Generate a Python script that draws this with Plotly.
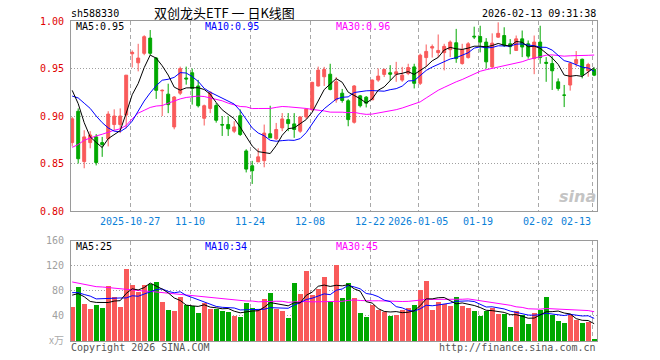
import plotly.graph_objects as go
import pandas as pd

# ---------------- data ----------------
opens = [0.872, 0.905, 0.852, 0.872, 0.878, 0.872, 0.876, 0.891, 0.891, 0.901,
         0.9655, 0.956, 0.966, 0.982, 0.961, 0.9265, 0.923, 0.8885, 0.924, 0.940,
         0.9455, 0.9316, 0.8976, 0.908, 0.911, 0.891, 0.891, 0.884, 0.9003, 0.8632,
         0.8476, 0.8517, 0.853, 0.8813, 0.876, 0.8875, 0.8962, 0.8917, 0.884, 0.899,
         0.9066, 0.9316, 0.9413, 0.944, 0.917, 0.924, 0.916, 0.8934, 0.9212, 0.9198,
         0.917, 0.9378, 0.9438, 0.9455, 0.944, 0.9378, 0.9448, 0.9517, 0.9344, 0.9615,
         0.9715, 0.9667, 0.9667, 0.9698, 0.9771, 0.9552, 0.9615, 0.984, 0.9837, 0.9778,
         0.9517, 0.983, 0.9847, 0.976, 0.969, 0.9812, 0.976, 0.9604, 0.9778, 0.9565,
         0.9552, 0.936, 0.922, 0.9326, 0.9552, 0.9597, 0.9476, 0.949]
highs = [0.899, 0.908, 0.885, 0.884, 0.881, 0.878, 0.905, 0.907, 0.908, 0.943,
         0.969, 0.976, 0.985, 0.9905, 0.962, 0.928, 0.934, 0.921, 0.952, 0.952,
         0.950, 0.938, 0.912, 0.926, 0.9135, 0.900, 0.8997, 0.8945, 0.907, 0.865,
         0.8528, 0.866, 0.891, 0.9108, 0.8927, 0.9031, 0.9031, 0.903, 0.8997, 0.908,
         0.936, 0.952, 0.9517, 0.955, 0.941, 0.9285, 0.9177, 0.9326, 0.9222, 0.921,
         0.9385, 0.950, 0.950, 0.9535, 0.957, 0.9517, 0.955, 0.955, 0.9656, 0.9753,
         0.9753, 0.9858, 0.976, 0.9795, 0.9917, 0.976, 0.9778, 0.994, 0.995, 0.982,
         0.987, 0.9986, 0.9934, 0.981, 0.9847, 0.990, 0.9795, 0.9847, 0.995, 0.962,
         0.963, 0.9396, 0.9327, 0.957, 0.9684, 0.9604, 0.956, 0.951]
lows = [0.868, 0.850, 0.845, 0.866, 0.848, 0.857, 0.868, 0.885, 0.882, 0.887,
        0.951, 0.947, 0.964, 0.964, 0.918, 0.900, 0.903, 0.886, 0.922, 0.933,
        0.912, 0.909, 0.890, 0.903, 0.893, 0.879, 0.879, 0.882, 0.879, 0.8406,
        0.8285, 0.8517, 0.846, 0.877, 0.8747, 0.884, 0.884, 0.877, 0.8823, 0.8969,
        0.905, 0.931, 0.9316, 0.927, 0.914, 0.914, 0.8892, 0.892, 0.909, 0.909,
        0.917, 0.936, 0.941, 0.937, 0.936, 0.936, 0.943, 0.929, 0.9326, 0.9517,
        0.9615, 0.9615, 0.948, 0.962, 0.956, 0.954, 0.9604, 0.981, 0.967, 0.950,
        0.950, 0.9823, 0.9726, 0.965, 0.969, 0.962, 0.9604, 0.944, 0.955, 0.936,
        0.9274, 0.9267, 0.9094, 0.9267, 0.9517, 0.9396, 0.9413, 0.942]
closes = [0.897, 0.855, 0.878, 0.880, 0.851, 0.870, 0.902, 0.900, 0.900, 0.943,
          0.967, 0.961, 0.9835, 0.966, 0.927, 0.927, 0.912, 0.920, 0.950, 0.939,
          0.929, 0.9108, 0.9108, 0.925, 0.8955, 0.8905, 0.8865, 0.8885, 0.8805, 0.8441,
          0.8424, 0.857, 0.882, 0.877, 0.8858, 0.8969, 0.892, 0.8858, 0.899, 0.9073,
          0.9354, 0.9483, 0.949, 0.928, 0.936, 0.9163, 0.8962, 0.9316, 0.9108, 0.9135,
          0.9378, 0.942, 0.949, 0.944, 0.9465, 0.943, 0.951, 0.9344, 0.964, 0.968,
          0.973, 0.969, 0.9733, 0.9778, 0.9604, 0.9698, 0.976, 0.9833, 0.9778, 0.957,
          0.9767, 0.987, 0.9743, 0.973, 0.9812, 0.9726, 0.963, 0.9778, 0.9615, 0.9555,
          0.9476, 0.929, 0.9219, 0.9552, 0.9594, 0.943, 0.9542, 0.943]
volumes = [54.4, 86.4, 58.7, 50.7, 57, 52.3, 87.5, 70.4, 53.9, 114.7,
           89, 78.4, 89, 90, 93.9, 61.9, 49, 48, 69.9, 57,
           56, 44.3, 61.3, 51.2, 51.7, 48, 46.4, 40, 38.4, 61.3,
           52.3, 49, 67.2, 76.3, 51.7, 48, 36.8, 92.3, 74.7, 112,
           73.6, 83.2, 101.9, 63.5, 121.6, 68.8, 92.8, 68.8, 44.3, 38.4,
           57.6, 49, 45.9, 40, 41.6, 49, 52.8, 57, 81.1, 95.5,
           49, 61.9, 58.7, 56, 70.4, 56, 52.8, 47.5, 40, 48.5,
           52.8, 43.2, 43.2, 22.4, 47.5, 41, 27.2, 44.3, 49.6, 70.4,
           42.1, 32, 28.8, 42.1, 33, 28.8, 30.4, 3.2]

# moving-average values at the start of the window (history before the chart)
ma5_head = [0.927, 0.913, 0.893, 0.878]
ma10_head = [0.921, 0.919, 0.9135, 0.908, 0.900, 0.893, 0.8875, 0.884, 0.8835]
ma30_head = [0.867, 0.870, 0.8745, 0.877, 0.879, 0.8808, 0.883, 0.885, 0.8865, 0.890,
             0.897, 0.903, 0.906, 0.909, 0.9105, 0.911, 0.9135, 0.916, 0.918, 0.9195,
             0.920, 0.921, 0.9205, 0.919, 0.918, 0.916, 0.9135, 0.9115, 0.910]
vma5_head = [73, 75.5, 70.5, 63]
vma10_head = [77, 77, 74, 71.5, 67, 67.5, 68.5, 68, 68.5]
vma30_head = [94, 92, 90, 88, 86.5, 86, 85, 84, 83, 81.5,
              80.5, 80, 79.5, 79, 78, 77, 76.5, 75.5, 74.5, 73.5,
              72.5, 71.5, 71, 70, 69, 68, 67, 66, 64]

tick_index = [10, 20, 30, 40, 50, 58, 68, 78, 87]
tick_labels = ["2025-10-27", "11-10", "11-24", "12-08", "12-22",
               "2026-01-05", "01-19", "02-02", "02-13"]

title_text = "双创龙头ETF 一 日K线图"
code_text = "sh588330"
time_text = "2026-02-13 09:31:38"
price_ma_labels = ["MA5:0.95", "MA10:0.95", "MA30:0.96"]
vol_ma_labels = ["MA5:25", "MA10:34", "MA30:45"]
price_ticks = [0.80, 0.85, 0.90, 0.95, 1.00]
vol_ticks = [40, 80, 120, 160]

# ---------------- derived ----------------
n = len(closes)
idx = list(range(n))


def moving(series, w, head):
    s = pd.Series(series).rolling(w).mean().tolist()
    for k, v in enumerate(head):
        s[k] = v
    return s


ma5 = moving(closes, 5, ma5_head)
ma10 = moving(closes, 10, ma10_head)
ma30 = moving(closes, 30, ma30_head)
vma5 = moving(volumes, 5, vma5_head)
vma10 = moving(volumes, 10, vma10_head)
vma30 = moving(volumes, 30, vma30_head)

RED = "#f95a5a"
GREEN = "#00a800"
MONO = "DejaVu Sans Mono"

W, H = 660, 360
L, T = 71, 21
R = W - 597
B = H - 341
PW, PH = W - L - R, H - T - B


def fx(x):  # page pixel -> paper x
    return (x - L) / PW


def fy(y):  # page pixel -> paper y
    return (H - B - y) / PH


fig = go.Figure()
fig.add_trace(go.Candlestick(
    x=idx, open=opens, high=highs, low=lows, close=closes,
    xaxis="x", yaxis="y",
    increasing=dict(line=dict(color=RED, width=1), fillcolor=RED),
    decreasing=dict(line=dict(color=GREEN, width=1), fillcolor=GREEN),
    whiskerwidth=0, showlegend=False, hoverinfo="skip"))
for vals, col in [(ma30, "#ff00ff"), (ma10, "#0000ff"), (ma5, "#000000")]:
    fig.add_trace(go.Scatter(x=idx, y=vals, mode="lines", xaxis="x", yaxis="y",
                             line=dict(color=col, width=1), showlegend=False,
                             hoverinfo="skip"))

vcolors = [RED if c >= o else GREEN for o, c in zip(opens, closes)]
fig.add_trace(go.Bar(x=idx, y=volumes, marker=dict(color=vcolors, line=dict(width=0)),
                     width=0.82, xaxis="x2", yaxis="y2", showlegend=False,
                     hoverinfo="skip"))
for vals, col in [(vma30, "#ff00ff"), (vma10, "#0000ff"), (vma5, "#000000")]:
    fig.add_trace(go.Scatter(x=idx, y=vals, mode="lines", xaxis="x2", yaxis="y2",
                             line=dict(color=col, width=1), showlegend=False,
                             hoverinfo="skip"))

grid_x = [i - 0.3 for i in tick_index]
xrange = [-0.2, 87.47]
common_x = dict(range=xrange, tickvals=grid_x, showticklabels=False, ticks="",
                showgrid=True, gridcolor="#a8a8a8", gridwidth=1, griddash="4px,3px",
                showline=True, mirror=True, linecolor="#9a9a9a", linewidth=1,
                zeroline=False, fixedrange=True, automargin=False)


def note(xp, yp, text, color, anchor="left", family=MONO, size=10):
    return dict(x=fx(xp), y=fy(yp), xref="paper", yref="paper", text=text,
                showarrow=False, xanchor=anchor, yanchor="middle", borderpad=0,
                font=dict(family=family, size=size, color=color))


annotations = []
for i, lab in zip(tick_index, tick_labels):
    last = (i == tick_index[-1])
    annotations.append(dict(x=(i - 0.25) if last else (i - 0.3), xref="x",
                            y=fy(221), yref="paper", text=lab, showarrow=False,
                            xanchor="right" if last else "center", yanchor="middle",
                            font=dict(family=MONO, size=10, color="#0a80d8")))

annotations += [
    note(224, 12.5, title_text, "#000", "center", "Noto Sans CJK SC", 13),
    note(70, 13, code_text, "#000"),
    note(597, 13, time_text, "#000", "right"),
    note(75, 26.5, price_ma_labels[0], "#000"),
    note(204, 26.5, price_ma_labels[1], "#0000ff"),
    note(335, 26.5, price_ma_labels[2], "#ff00ff"),
    note(75, 246.5, vol_ma_labels[0], "#000"),
    note(204, 246.5, vol_ma_labels[1], "#0000ff"),
    note(335, 246.5, vol_ma_labels[2], "#ff00ff"),
    note(65, 339, "x万", "#aaaaaa", "right", "Noto Sans CJK SC", 10),
    note(70, 347.5, "Copyright 2026 SINA.COM", "#555"),
    note(597, 347.5, "http://finance.sina.com.cn", "#555", "right"),
    note(597, 196, "<b><i>sina</i></b>", "#c4c4c4", "right", "DejaVu Sans", 16),
]

fig.update_layout(
    width=W, height=H, autosize=False,
    margin=dict(l=L, r=R, t=T, b=B, pad=0),
    paper_bgcolor="#ffffff", plot_bgcolor="#ffffff",
    showlegend=False, bargap=0,
    xaxis=dict(domain=[0, 1], anchor="y", rangeslider=dict(visible=False), **common_x),
    yaxis=dict(domain=[fy(211), 1], anchor="x", range=[0.80, 1.00],
               tickvals=price_ticks, ticktext=[f"{v:.2f}" for v in price_ticks],
               tickfont=dict(family=MONO, size=10, color="#e00000"),
               ticks="", ticklabelstandoff=4, automargin=False,
               showgrid=True, gridcolor="#a0a0a0", gridwidth=1, griddash="1px,2px",
               showline=True, mirror=True, linecolor="#9a9a9a", linewidth=1,
               zeroline=False, fixedrange=True),
    xaxis2=dict(domain=[0, 1], anchor="y2", **common_x),
    yaxis2=dict(domain=[0, fy(240.5)], anchor="x2", range=[0, 160],
                tickvals=vol_ticks, ticktext=[str(v) for v in vol_ticks],
                tickfont=dict(family=MONO, size=10, color="#a0a0a0"),
                ticks="", ticklabelstandoff=4, automargin=False,
                showgrid=True, gridcolor="#a0a0a0", gridwidth=1, griddash="1px,2px",
                showline=True, mirror=True, linecolor="#9a9a9a", linewidth=1,
                zeroline=False, fixedrange=True),
    annotations=annotations,
)

fig.write_html("out.html", config={"displayModeBar": False, "staticPlot": True},
               post_script="document.body.style.margin='0';document.body.style.overflow='hidden';")
